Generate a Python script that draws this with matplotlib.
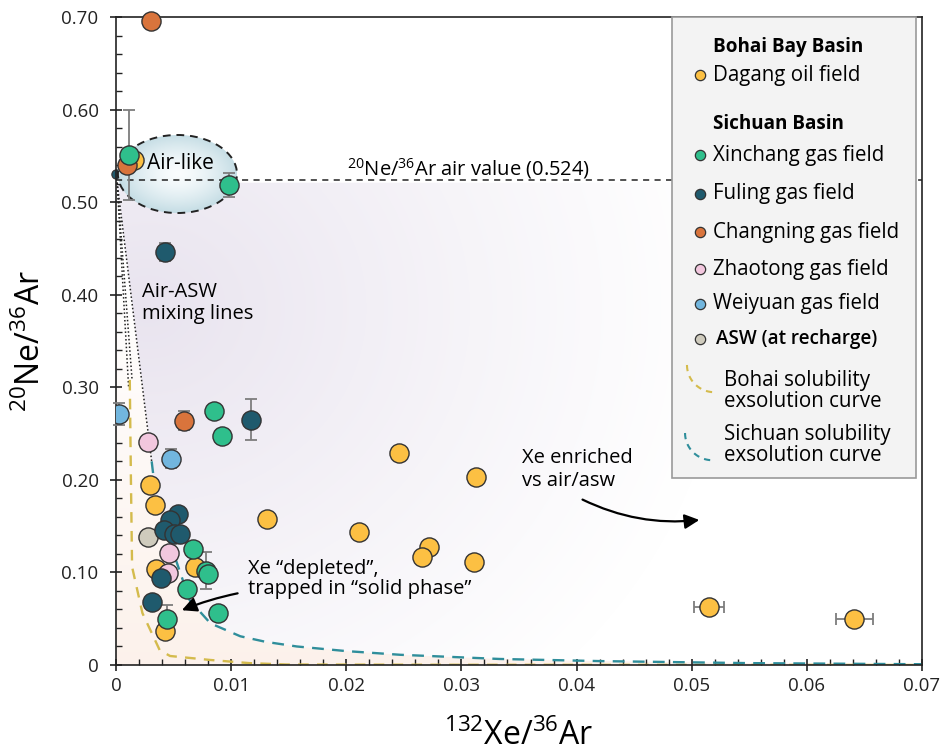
import numpy as np
import matplotlib
matplotlib.use("Agg")
from matplotlib import pyplot as plt
from matplotlib.patches import Ellipse, Polygon, Rectangle, FancyArrowPatch
from matplotlib.ticker import MultipleLocator

plt.rcParams['font.family'] = ['Open Sans', 'DejaVu Sans']
plt.rcParams['mathtext.fontset'] = 'custom'
plt.rcParams['mathtext.rm'] = 'Open Sans'
plt.rcParams['mathtext.default'] = 'regular'

# ---- measured ratios: 132Xe/36Ar (x) and 20Ne/36Ar (y) ----
# Bohai Bay Basin
dagang_x  = [0.0246, 0.0313, 0.0131, 0.0211, 0.0272, 0.0266, 0.0311, 0.0515, 0.0641,
             0.00295, 0.0034, 0.0035, 0.0069, 0.0043, 0.0016]
dagang_y  = [0.229, 0.203, 0.158, 0.144, 0.127, 0.117, 0.111, 0.063, 0.050,
             0.194, 0.173, 0.104, 0.106, 0.037, 0.545]
dagang_xe = [0.0003, 0.0003, 0, 0, 0, 0, 0, 0.0013, 0.0016,
             0, 0, 0, 0, 0, 0]
dagang_ye = [0] * 15

# Sichuan Basin
xinchang_x  = [0.0011, 0.0098, 0.0085, 0.0092, 0.0067, 0.0078, 0.0080, 0.0062, 0.0089, 0.0044]
xinchang_y  = [0.551, 0.519, 0.274, 0.247, 0.125, 0.102, 0.098, 0.082, 0.056, 0.050]
xinchang_xe = [0.0003, 0.0005, 0.0004, 0.0004, 0.0003, 0, 0, 0.0003, 0.0003, 0.0003]
xinchang_ye = [0.049, 0.013, 0, 0, 0, 0.02, 0, 0, 0, 0.015]

fuling_x  = [0.0, 0.0043, 0.0117, 0.0054, 0.0047, 0.0042, 0.0050, 0.0056, 0.0039, 0.0031]
fuling_y  = [0.530, 0.446, 0.265, 0.163, 0.157, 0.146, 0.142, 0.141, 0.094, 0.068]
fuling_xe = [0] * 10
fuling_ye = [0, 0.010, 0.022, 0, 0, 0, 0, 0, 0.006, 0]

changning_x  = [0.0030, 0.0010, 0.0059]
changning_y  = [0.696, 0.540, 0.264]
changning_xe = [0, 0, 0.0004]
changning_ye = [0, 0, 0.010]

zhaotong_x = [0.0028, 0.0046, 0.0045]
zhaotong_y = [0.241, 0.121, 0.099]

weiyuan_x  = [0.0003, 0.0048]
weiyuan_y  = [0.271, 0.223]
weiyuan_ye = [0.012, 0.010]

asw_x = [0.0028]
asw_y = [0.138]

# solubility exsolution curves
bohai_cx = [0.0012, 0.0013, 0.0014, 0.0023, 0.0038, 0.0047, 0.0082, 0.0116, 0.0148, 0.03, 0.07]
bohai_cy = [0.308, 0.200, 0.106, 0.056, 0.016, 0.0097, 0.0054, 0.002, 0.0005, 0.0002, 0.0]
sichuan_cx = [0.0031, 0.0034, 0.0038, 0.0053, 0.0064, 0.0082, 0.0108, 0.0130, 0.0157,
              0.0200, 0.0247, 0.0333, 0.0420, 0.0550, 0.0700]
sichuan_cy = [0.220, 0.189, 0.164, 0.110, 0.070, 0.045, 0.031, 0.025, 0.020,
              0.015, 0.011, 0.0065, 0.0042, 0.002, 0.0008]

# air value and air-ASW mixing line end points
air_ne = 0.524
air_pt = (0.0001, 0.521)
mix_end_x = [0.0011, 0.0014, 0.0031]
mix_end_y = [0.300, 0.308, 0.220]

xmax, ymax = 0.07, 0.70

fig = plt.figure(figsize=(9.42, 7.56), dpi=100)
ax = fig.add_axes([0.1231, 0.1204, 0.8557, 0.8571])
ax.set_xlim(0, xmax)
ax.set_ylim(0, ymax)

# ---- background shading ----
nx, ny = 500, 500
gx, gy = np.meshgrid(np.linspace(0, 1, nx), np.linspace(0, 1, ny))

lav_poly = Polygon([air_pt, (xmax, air_pt[1]), (xmax, sichuan_cy[-1])]
                   + list(zip(sichuan_cx[::-1], sichuan_cy[::-1])),
                   closed=True, transform=ax.transData)
d = np.hypot(gx - 0.04, (gy - 0.55) * 0.9)
lav = np.zeros((ny, nx, 4))
lav[..., :3] = (0.915, 0.895, 0.94)
lav[..., 3] = np.clip(1 - d / 0.72, 0, 1) ** 1.1
im = ax.imshow(lav, extent=(0, xmax, 0, ymax), origin='lower', aspect='auto',
               zorder=0.5, interpolation='bilinear')
im.set_clip_path(lav_poly)

peach_poly = Polygon([(0, 0), (0, air_pt[1]), air_pt]
                     + list(zip(sichuan_cx, sichuan_cy)) + [(xmax, 0)],
                     closed=True, transform=ax.transData)
pch = np.zeros((ny, nx, 4))
pch[..., :3] = (0.99, 0.945, 0.915)
pch[..., 3] = np.clip(1 - gy / 0.6, 0, 1) * 0.9
im2 = ax.imshow(pch, extent=(0, xmax, 0, ymax), origin='lower', aspect='auto',
                zorder=0.5, interpolation='bilinear')
im2.set_clip_path(peach_poly)

# air-like ellipse with radial fill
ecx, ecy, ew, eh = 0.00534, 0.5304, 0.01034, 0.0843
ell = Ellipse((ecx, ecy), ew, eh, transform=ax.transData)
r = np.clip(np.hypot(gx * 2 - 1, gy * 2 - 1), 0, 1)
ell_img = np.zeros((ny, nx, 4))
c0 = np.array([0.98, 0.99, 0.995])
c1 = np.array([0.77, 0.865, 0.895])
ell_img[..., :3] = c0 + (c1 - c0) * (r[..., None] ** 1.5)
ell_img[..., 3] = 1
im3 = ax.imshow(ell_img, extent=(ecx - ew / 2, ecx + ew / 2, ecy - eh / 2, ecy + eh / 2),
                origin='lower', aspect='auto', zorder=2, interpolation='bilinear')
im3.set_clip_path(ell)
ax.add_patch(Ellipse((ecx, ecy), ew, eh, fill=False, ec='#222222', lw=1.4,
                     ls=(0, (4, 3)), zorder=2.1))
ax.set_xlim(0, xmax)
ax.set_ylim(0, ymax)

# ---- lines ----
ax.plot([0, xmax], [air_ne, air_ne], color='#222222', lw=1.1, ls=(0, (4, 3.5)), zorder=2.2)
for mx, my in zip(mix_end_x, mix_end_y):
    ax.plot([air_pt[0], mx], [air_pt[1], my], color='#222222', lw=1.1, ls=(0, (1, 1.5)), zorder=1.5)
ax.plot(bohai_cx, bohai_cy, color='#d4bb4c', lw=1.7, ls=(0, (4.5, 3.5)), zorder=1.6)
ax.plot(sichuan_cx, sichuan_cy, color='#2f8e9b', lw=1.7, ls=(0, (5, 3.5)), zorder=1.6)

# ---- data points ----
ms = 190
ecol = '#333333'
err_kw = dict(fmt='none', ecolor='#7d7d7d', elinewidth=1.3, capsize=4, capthick=1.3, zorder=3.5)


def errs(x, y, xe, ye):
    x, y, xe, ye = map(np.asarray, (x, y, xe, ye))
    m = (xe > 0) | (ye > 0)
    if m.any():
        ax.errorbar(x[m], y[m], xerr=np.where(xe[m] > 0, xe[m], np.nan),
                    yerr=np.where(ye[m] > 0, ye[m], np.nan), clip_on=False, **err_kw)


# air point sitting on the axis, mostly hidden under the air-like field
ax.scatter(fuling_x[:1], fuling_y[:1], s=45, c='#1f5a6d', edgecolors=ecol, lw=0.8,
           zorder=1.8, clip_on=False)

errs(dagang_x, dagang_y, dagang_xe, dagang_ye)
errs(xinchang_x, xinchang_y, xinchang_xe, xinchang_ye)
errs(fuling_x, fuling_y, fuling_xe, fuling_ye)
errs(changning_x, changning_y, changning_xe, changning_ye)
errs(weiyuan_x, weiyuan_y, [0, 0], weiyuan_ye)

ax.scatter(dagang_x, dagang_y, s=ms, c='#fcc043', edgecolors=ecol, lw=1, zorder=4)
ax.scatter(zhaotong_x, zhaotong_y, s=ms, c='#f2c7de', edgecolors=ecol, lw=1, zorder=4.1)
ax.scatter(weiyuan_x, weiyuan_y, s=ms, c='#72b6de', edgecolors=ecol, lw=1, zorder=4.2)
ax.scatter(asw_x, asw_y, s=ms, c='#cfcbbd', edgecolors=ecol, lw=1, zorder=4.2)
ax.scatter(changning_x, changning_y, s=ms, c='#d9743c', edgecolors=ecol, lw=1, zorder=4.3, clip_on=False)
ax.scatter(xinchang_x, xinchang_y, s=ms, c='#2fbf8c', edgecolors=ecol, lw=1, zorder=4.4)
ax.scatter(fuling_x[1:], fuling_y[1:], s=ms, c='#1f5a6d', edgecolors=ecol, lw=1, zorder=4.5)

# ---- annotations ----
tfs = 14.5
ax.text(0.0027, 0.542, 'Air-like', fontsize=15, va='center', ha='left', zorder=5)
ax.text(0.0306, 0.536, r'$^{20}$Ne/$^{36}$Ar air value (0.524)', fontsize=14.5,
        ha='center', va='center', zorder=5)
ax.text(0.00226, 0.414, 'Air-ASW\nmixing lines', fontsize=tfs, ha='left', va='top',
        linespacing=1.15, zorder=5)
ax.text(0.0353, 0.234, 'Xe enriched\nvs air/asw', fontsize=tfs, ha='left', va='top',
        linespacing=1.15, zorder=5)
ax.text(0.01146, 0.115, 'Xe \u201cdepleted\u201d,\ntrapped in \u201csolid phase\u201d', fontsize=tfs,
        ha='left', va='top', linespacing=1.05, zorder=5)

ax.add_patch(FancyArrowPatch((0.0403, 0.180), (0.0509, 0.157), arrowstyle='-|>',
                             mutation_scale=22, lw=1.6, color='black',
                             connectionstyle='arc3,rad=0.15', zorder=5))
ax.add_patch(FancyArrowPatch((0.0108, 0.078), (0.0055, 0.058), arrowstyle='-|>',
                             mutation_scale=22, lw=1.6, color='black',
                             connectionstyle='arc3,rad=0.05', zorder=5))

# ---- axes styling ----
for s in ax.spines.values():
    s.set_linewidth(1.2)
    s.set_color('#222222')
ax.xaxis.set_minor_locator(MultipleLocator(0.002))
ax.yaxis.set_minor_locator(MultipleLocator(0.02))
ax.set_xticks(np.arange(0, 0.071, 0.01))
ax.set_xticklabels(['0', '0.01', '0.02', '0.03', '0.04', '0.05', '0.06', '0.07'])
ax.set_yticks(np.arange(0, 0.71, 0.1))
ax.set_yticklabels(['0', '0.10', '0.20', '0.30', '0.40', '0.50', '0.60', '0.70'])
ax.tick_params(which='major', direction='inout', length=9, width=1.2, labelsize=13.5,
               colors='#222222', pad=4)
ax.tick_params(axis='y', which='major', pad=8)
ax.tick_params(which='minor', direction='in', length=4.5, width=1.0, colors='#222222')
ax.tick_params(top=False, right=False, which='both')
ax.set_xlabel(r'$^{132}$Xe/$^{36}$Ar', fontsize=23, labelpad=18)
ax.set_ylabel(r'$^{20}$Ne/$^{36}$Ar', fontsize=23, labelpad=10)

# ---- legend panel ----
lx0, lx1, ly0, ly1 = 0.690, 0.9926, 0.2886, 1.0
ax.add_patch(Rectangle((lx0, ly0), lx1 - lx0, ly1 - ly0, transform=ax.transAxes,
                       fc='#f3f3f3', ec='#9a9a9a', lw=1.2, zorder=6, clip_on=False))
lfs = 14.8
mx, tx = 0.7246, 0.7407
ax.text(tx, 0.9537, 'Bohai Bay Basin', transform=ax.transAxes, fontsize=13.6,
        fontweight='bold', va='center', zorder=7)
ax.text(tx, 0.8349, 'Sichuan Basin', transform=ax.transAxes, fontsize=13.6,
        fontweight='bold', va='center', zorder=7)
leg_rows = [('Dagang oil field', '#fcc043', 0.9105, 'normal', lfs),
            ('Xinchang gas field', '#2fbf8c', 0.7870, 'normal', lfs),
            ('Fuling gas field', '#1f5a6d', 0.7269, 'normal', lfs),
            ('Changning gas field', '#d9743c', 0.6682, 'normal', lfs),
            ('Zhaotong gas field', '#f2c7de', 0.6111, 'normal', lfs),
            ('Weiyuan gas field', '#72b6de', 0.5571, 'normal', lfs),
            ('ASW (at recharge)', '#cfcbbd', 0.5031, 'semibold', 13.6)]
for lab, col, yy, fw, fs in leg_rows:
    ax.scatter([mx], [yy], s=55, c=col, edgecolors=ecol, lw=0.9, transform=ax.transAxes,
               zorder=7, clip_on=False)
    ax.text(tx + (0.004 if fw != 'normal' else 0), yy, lab, transform=ax.transAxes,
            fontsize=fs, fontweight=fw, va='center', zorder=7)

t = np.linspace(0, np.pi / 2, 30)
for (x0, y0, col, yt, lab) in [(0.7084, 0.4630, '#d4bb4c', 0.4228, 'Bohai solubility\nexsolution curve'),
                               (0.7060, 0.3580, '#2f8e9b', 0.3395, 'Sichuan solubility\nexsolution curve')]:
    ax.plot(x0 + 0.034 * (1 - np.cos(t)), y0 - 0.042 * np.sin(t), color=col, lw=1.5,
            ls=(0, (3, 2.5)), transform=ax.transAxes, zorder=7, clip_on=False)
    ax.text(0.7543, yt, lab, transform=ax.transAxes, fontsize=lfs, va='center',
            linespacing=0.95, zorder=7)

fig.savefig('out.png', dpi=100)
